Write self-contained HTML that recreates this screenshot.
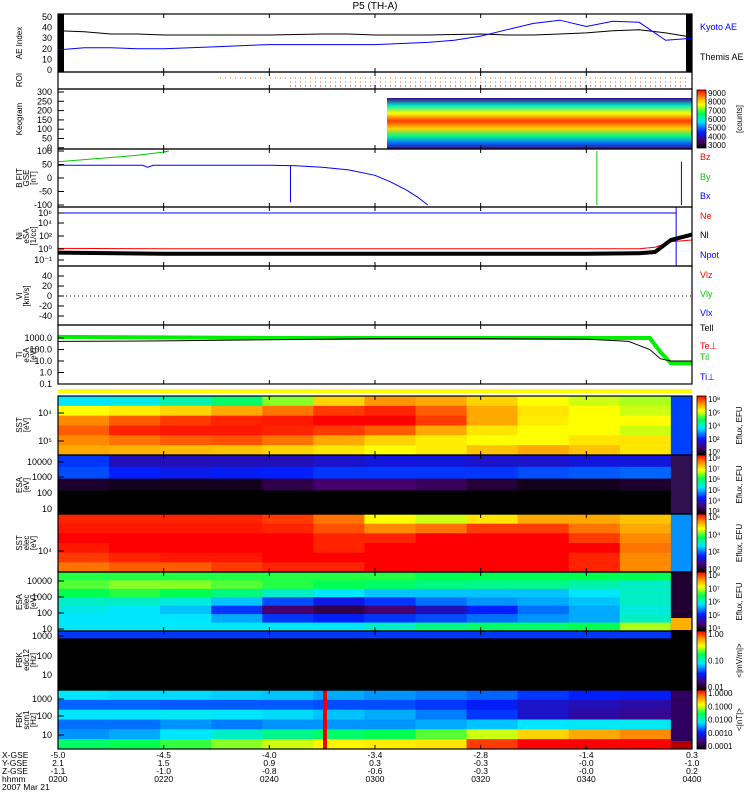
<!DOCTYPE html>
<html><head><meta charset="utf-8"><style>
html,body{margin:0;padding:0;background:#fff;}
svg{display:block;font-family:"Liberation Sans",sans-serif;}
</style></head><body>
<svg id="c" width="750" height="800" viewBox="0 0 750 800"></svg>
<script>
// ---- data ----
const tickTimes=[0,20,40,60,80,100,120];
const tickHHMM=["0200","0220","0240","0300","0320","0340","0400"];
const tickX=["-5.0","-4.5","-4.0","-3.4","-2.8","-1.4","0.3"];
const tickY=["2.1","1.5","0.9","0.3","-0.3","-0.0","-1.0"];
const tickZ=["-1.1","-1.0","-0.8","-0.6","-0.3","-0.0","0.2"];
const aeTimes=[0,5,10,15,20,25,30,35,40,45,50,55,60,65,70,75,80,85,90,95,100,105,110,115,120];
const themisAE=[37,36,34,34,33,33,33,33,33,33.5,34,34,33,33,33,33.5,34,33,33,34,35,37,38,35,31];
const kyotoAE=[19,21,21,20,20,21,22,23,24,24,24,24,24,25,26,28,32,38,44,47,41,46,45,28,30];
const byTimes=[0,5,10,15,20,21];
const byVals=[60,68,76,84,96,100];
const bxTimes=[0,10,16,17,18,40,45,50,55,60,63,66,68,70];
const bxVals=[47,47,47,40,47,47,45,40,30,10,-15,-45,-70,-100];
const niTimes=[0,20,40,60,80,100,110,113,116,120];
const neVals=[0.1,0.05,0.05,0.05,0.05,0.05,0.05,0.3,1.2,1.5];
const nlVals=[-0.6,-0.8,-0.8,-0.8,-0.8,-0.8,-0.7,-0.5,1.5,2.4];
const tiTimes=[0,20,40,60,80,100,108,112,114,116,120];
const teVals=[2.7,2.75,2.85,2.95,2.95,2.9,2.7,2.0,1.2,1.0,1.0];
const tiVals=[3.1,3.05,3.0,3.0,3.0,3.0,3.0,3.0,1.8,0.8,0.8];
// spectrogram matrices (0..1 colour index), rows top->bottom, 12 time columns
const sstIon=[[0.45,0.47,0.52,0.58,0.68,0.8,0.87,0.85,0.8,0.75,0.72,0.7],
[0.75,0.77,0.8,0.85,0.9,0.95,0.97,0.92,0.85,0.78,0.75,0.72],
[0.88,0.92,0.95,0.97,0.98,1,1,0.95,0.85,0.77,0.75,0.75],
[0.92,0.97,0.98,0.98,0.97,0.95,0.92,0.85,0.78,0.75,0.75,0.72],
[0.88,0.9,0.92,0.93,0.9,0.85,0.8,0.77,0.75,0.75,0.78,0.78],
[0.85,0.84,0.83,0.82,0.8,0.78,0.75,0.77,0.82,0.85,0.82,0.78]];
const esaEl=[[0.3,0.2,0.2,0.2,0.2,0.22,0.24,0.24,0.22,0.22,0.24,0.24],
[0.32,0.28,0.26,0.27,0.28,0.3,0.3,0.3,0.3,0.32,0.33,0.34],
[0.05,0.03,0.03,0.03,0.08,0.12,0.12,0.1,0.06,0.03,0.03,0.05],
[0,0,0,0,0,0,0,0,0,0,0,0],[0,0,0,0,0,0,0,0,0,0,0,0]];
const sstEl=[[0.97,0.97,0.97,0.97,0.95,0.9,0.75,0.72,0.78,0.85,0.85,0.82],
[0.98,0.98,0.98,0.98,0.97,0.93,0.88,0.9,0.95,0.95,0.9,0.85],
[1,1,1,1,1,0.97,0.97,1,1,1,0.95,0.88],[0.98,1,1,1,1,0.97,1,1,1,1,1,0.9],
[0.95,0.97,0.98,0.98,1,1,1,1,1,1,0.97,0.88],[0.9,0.92,0.92,0.95,0.97,0.97,1,1,1,1,0.97,0.88]];
const esaIon=[[0.62,0.62,0.62,0.62,0.62,0.62,0.62,0.6,0.6,0.6,0.6,0.6],
[0.65,0.68,0.68,0.65,0.62,0.6,0.58,0.56,0.55,0.55,0.52,0.5],
[0.6,0.62,0.6,0.56,0.5,0.45,0.42,0.42,0.42,0.42,0.45,0.5],
[0.5,0.5,0.48,0.42,0.32,0.25,0.3,0.35,0.38,0.4,0.42,0.5],
[0.47,0.45,0.42,0.3,0.12,0.08,0.12,0.2,0.28,0.35,0.4,0.48],
[0.45,0.45,0.45,0.4,0.3,0.28,0.3,0.32,0.35,0.38,0.4,0.5],
[0.45,0.45,0.45,0.45,0.45,0.45,0.5,0.55,0.58,0.58,0.6,0.7]];
const fbkEdc=[[0.3,0.3,0.3,0.3,0.3,0.3,0.3,0.3,0.3,0.3,0.3,0.3],[0,0,0,0,0,0,0,0,0,0,0,0],[0,0,0,0,0,0,0,0,0,0,0,0],[0,0,0,0,0,0,0,0,0,0,0,0],[0,0,0,0,0,0,0,0,0,0,0,0],[0,0,0,0,0,0,0,0,0,0,0,0],[0,0,0,0,0,0,0,0,0,0,0,0],[0,0,0,0,0,0,0,0,0,0,0,0]];
const fbkScm=[[0.45,0.44,0.44,0.43,0.42,0.4,0.38,0.36,0.34,0.3,0.28,0.27],
[0.34,0.34,0.33,0.33,0.33,0.32,0.32,0.3,0.27,0.22,0.2,0.18],
[0.45,0.45,0.46,0.45,0.44,0.42,0.4,0.36,0.3,0.22,0.18,0.16],
[0.35,0.35,0.38,0.36,0.38,0.38,0.38,0.4,0.42,0.45,0.46,0.46],
[0.38,0.4,0.45,0.5,0.55,0.58,0.6,0.65,0.72,0.8,0.85,0.88],
[0.58,0.6,0.63,0.68,0.72,0.76,0.77,0.78,0.95,1,1,1]];

// ---- helpers ----
const S=document.getElementById('c'),NS="http://www.w3.org/2000/svg";
const X0=58,X1=692;
const xs=t=>X0+t*(X1-X0)/120;
function mk(tag,a,p){const e=document.createElementNS(NS,tag);for(const k in a)e.setAttribute(k,a[k]);(p||S).appendChild(e);return e;}
function txt(x,y,s,o){const e=mk('text',Object.assign({x:x,y:y,'font-size':9},o||{}));e.textContent=s;return e;}
const stops=[[0,[0,0,0]],[0.12,[70,0,110]],[0.28,[0,30,255]],[0.45,[0,230,255]],[0.6,[0,255,80]],[0.75,[255,255,0]],[0.87,[255,150,0]],[1,[255,0,0]]];
function cmap(v){for(let i=1;i<stops.length;i++){if(v<=stops[i][0]){const a=stops[i-1],b=stops[i],f=(v-a[0])/(b[0]-a[0]);return 'rgb('+a[1].map((c,j)=>Math.round(c+(b[1][j]-c)*f)).join(',')+')';}}return 'rgb(255,0,0)';}
function line(ts,vs,ys,col,w,name){const pts=ts.map((t,i)=>xs(t).toFixed(1)+','+ys(vs[i]).toFixed(1)).join(' ');const e=mk('polyline',{points:pts,fill:'none',stroke:col,'stroke-width':w||1});

return e;}
function spec(mat,y0,y1,name){const g=mk('g',{});


const rows=mat.length,cols=mat[0].length,rh=(y1-y0)/rows,tEnd=116;
mat.forEach((r,i)=>r.forEach((v,j)=>{mk('rect',{x:xs(j*tEnd/cols),y:y0+i*rh,width:xs((j+1)*tEnd/cols)-xs(j*tEnd/cols)+0.5,height:rh+0.5,fill:cmap(v)},g);}));}
function frame(y0,y1,name){const r=mk('rect',{x:X0,y:y0,width:X1-X0,height:y1-y0,fill:'none',stroke:'#000','stroke-width':1.2});


tickTimes.forEach(t=>{mk('line',{x1:xs(t),x2:xs(t),y1:y1,y2:y1-4,stroke:'#000'});mk('line',{x1:xs(t),x2:xs(t),y1:y0,y2:y0+4,stroke:'#000'});});}
function ylab(y,lines){lines.forEach((s,i)=>{txt(0,0,s,{transform:'translate('+(22+i*7)+','+y+') rotate(-90)','text-anchor':'middle','font-size':8});});}
function yt(y,s){txt(52,y+3,s,{'text-anchor':'end','font-size':9});mk('line',{x1:X0,x2:X0+6,y1:y,y2:y,stroke:'#000'});}
function rl(y,s,c){txt(700,y,s,{fill:c,'font-size':9});}
function cbar(y0,y1,labels,title){const id='g'+y0;const lg=mk('linearGradient',{id:id,x1:0,y1:1,x2:0,y2:0},mk('defs',{}));stops.forEach(s=>mk('stop',{offset:s[0],'stop-color':cmap(s[0])},lg));
const r=mk('rect',{x:697,y:y0,width:9,height:y1-y0,fill:'url(#'+id+')',stroke:'#000','stroke-width':0.8});


labels.forEach((s,i)=>txt(708,y1-3-i*(y1-y0-6)/(labels.length-1)+3,s,{'font-size':8}));
txt(0,0,title,{transform:'translate(742,'+((y0+y1)/2)+') rotate(-90)','text-anchor':'middle','font-size':8});}

// title
const ti=txt(375,9,'P5 (TH-A)',{'text-anchor':'middle','font-size':10});



// AE panel
const aeY=v=>70-v*(53/50);
mk('rect',{x:X0,y:14,width:6,height:58,fill:'#000'});
mk('rect',{x:686,y:14,width:6,height:58,fill:'#000'});
line(aeTimes,themisAE,aeY,'#000',1,'themis-ae-line');
line(aeTimes,kyotoAE,aeY,'#00f',1,'kyoto-ae-line');
frame(14,72,'ae-index-panel');[0,10,20,30,40,50].forEach(v=>txt(52,aeY(v)+3,String(v),{'text-anchor':'end'}));
ylab(43,['AE Index']);rl(30,'Kyoto AE','#00f');rl(60,'Themis AE','#000');

// ROI
frame(72,89,'roi-panel');ylab(80,['ROI']);
mk('line',{x1:220,x2:690,y1:78,y2:78,stroke:'#f60','stroke-dasharray':'1 4'});
mk('line',{x1:290,x2:690,y1:82,y2:82,stroke:'#f60','stroke-dasharray':'1 4'});
mk('line',{x1:290,x2:690,y1:86,y2:86,stroke:'#a00','stroke-dasharray':'1 4'});

// Keogram
const kg=mk('linearGradient',{id:'kg',x1:0,y1:0,x2:0,y2:1},mk('defs',{}));
[[0,0.15],[0.15,0.5],[0.3,0.75],[0.45,0.95],[0.6,0.8],[0.75,0.55],[0.88,0.35],[1,0.15]].forEach(s=>mk('stop',{offset:s[0],'stop-color':cmap(s[1])},kg));
const kr=mk('rect',{x:387,y:98,width:305,height:51,fill:'url(#kg)'});


frame(89,149,'keogram-panel');['300','250','200','150','100','50','0'].forEach((s,i)=>yt(92+i*9.3,s));ylab(119,['Keogram']);
cbar(90,148,['3000','4000','5000','6000','7000','8000','9000'],'[counts]');

// B panel
const bY=v=>178-v*0.27;
line(byTimes,byVals,bY,'#0c0',1,'by-line');
line(bxTimes,bxVals,bY,'#00f',1,'bx-line');
mk('line',{x1:xs(44),x2:xs(44),y1:bY(47),y2:bY(-90),stroke:'#00f'});
mk('line',{x1:xs(102),x2:xs(102),y1:bY(100),y2:bY(-100),stroke:'#0c0'});
mk('line',{x1:xs(118),x2:xs(118),y1:bY(60),y2:bY(-100),stroke:'#00f'});
frame(149,207,'magnetic-field-panel');[100,50,0,-50,-100].forEach(v=>yt(bY(v),String(v)));
ylab(178,['B FIT','GSE','[nT]']);rl(160,'Bz','#f00');rl(180,'By','#0c0');rl(199,'Bx','#00f');

// Ni panel
const nY=v=>249-v*6;
mk('polyline',{points:xs(0)+','+nY(6)+' '+xs(117)+','+nY(6)+' '+xs(117)+','+207+' '+xs(117)+',266',fill:'none',stroke:'#00f'});
line(niTimes,neVals,nY,'#f00',1,'ne-line');
line(niTimes,nlVals,nY,'#000',4,'ni-line');
frame(207,266,'density-panel');yt(213,'10⁶');yt(223,'10⁴');yt(236,'10²');yt(249,'10⁰');yt(260,'10⁻¹');
ylab(236,['Ni','eSA','[1/cc]']);rl(219,'Ne','#f00');rl(238,'Nl','#000');rl(258,'Npot','#00f');

// Vi
frame(266,325,'velocity-panel');[40,20,0,-20,-40].forEach((v,i)=>yt(276+i*10,String(v)));
mk('line',{x1:X0,x2:X1,y1:296,y2:296,stroke:'#000','stroke-dasharray':'1 3'});
ylab(296,['Vi','[km/s]']);rl(278,'Vlz','#f00');rl(297,'Vly','#0c0');rl(316,'Vlx','#00f');

// Ti
const tY=v=>338+(3-v)*11.5;
line(tiTimes,tiVals,tY,'#0e0',4,'ti-line');
line(tiTimes,teVals,tY,'#000',1,'te-line');
frame(325,384,'temperature-panel');['1000.0','100.0','10.0','1.0','0.1'].forEach((s,i)=>yt(338+i*11.5,s));
ylab(355,['Ti','eSA','[eV]']);rl(331,'Tell','#000');rl(349,'Te⊥','#f00');rl(360,'Til','#0c0');rl(380,'Ti⊥','#00f');

// yellow bar
const yb=mk('rect',{x:X0,y:389,width:X1-X0,height:4,fill:'#ff0'});



// spectrograms
spec(sstIon,396,455,'sst-ion-spectrogram');mk('rect',{x:xs(116),y:396,width:X1-xs(116),height:59,fill:'#0040ff'});
spec(esaEl,455,514,'esa-ion-spectrogram');mk('rect',{x:xs(116),y:455,width:X1-xs(116),height:59,fill:'#301050'});
spec(sstEl,514,572,'sst-electron-spectrogram');mk('rect',{x:xs(116),y:514,width:X1-xs(116),height:58,fill:'#0090ff'});
spec(esaIon,572,631,'esa-electron-spectrogram');mk('rect',{x:xs(116),y:572,width:X1-xs(116),height:59,fill:'#200030'});
mk('rect',{x:xs(116),y:618,width:X1-xs(116),height:12,fill:'#ffb000'});
spec(fbkEdc,631,690,'fbk-edc12-spectrogram');mk('rect',{x:xs(116),y:631,width:X1-xs(116),height:59,fill:'#000'});
spec(fbkScm,690,749,'fbk-scm1-spectrogram');
mk('rect',{x:xs(116),y:690,width:X1-xs(116),height:59,fill:'#300060'});mk('rect',{x:xs(116),y:741,width:X1-xs(116),height:8,fill:'#b00000'});
mk('rect',{x:323,y:690,width:4,height:59,fill:'#e00'});

frame(396,455,'sst-ion-frame');yt(413,'10⁴');yt(441,'10⁵');ylab(425,['SST','[eV]']);
frame(455,514,'esa-ion-frame');yt(462,'10000');yt(477,'1000');yt(493,'100');yt(509,'10');ylab(485,['ESA','[eV]']);
frame(514,572,'sst-el-frame');yt(551,'10⁴');ylab(543,['SST','elec','[eV]']);
frame(572,631,'esa-el-frame');['10000','1000','100','10'].forEach((s,i)=>yt(581+i*16,s));ylab(602,['ESA','elec','[eV]']);
frame(631,690,'fbk-edc-frame');yt(636,'1000');yt(656,'100');yt(675,'10');ylab(660,['FBK','edc12','[Hz]']);
frame(690,749,'fbk-scm-frame');yt(699,'1000');yt(716,'100');yt(735,'10');ylab(720,['FBK','scm1','[Hz]']);

cbar(396,455,['10⁰','10²','10⁴','10⁶','10⁸'],'Eflux, EFU');
cbar(455,514,['10³','10⁴','10⁵','10⁶','10⁷','10⁸'],'Eflux, EFU');
cbar(514,572,['10⁰','10²','10⁴','10⁶'],'Eflux, EFU');
cbar(572,631,['10⁴','10⁵','10⁶','10⁷','10⁸'],'Eflux, EFU');
cbar(631,690,['0.01','0.10','1.00'],'<|mV/m|>');
cbar(690,749,['0.0001','0.0010','0.0100','0.1000','1.0000'],'<|nT|>');

// bottom axis labels
[['X-GSE',758],['Y-GSE',766],['Z-GSE',774],['hhmm',782]].forEach(r=>txt(2,r[1],r[0],{'font-size':8.5}));
txt(2,790,'2007 Mar 21',{'font-size':8.5});
tickTimes.forEach((t,i)=>{const x=xs(t);
[tickX[i],tickY[i],tickZ[i],tickHHMM[i]].forEach((s,k)=>{const e=txt(x,758+k*8,s,{'text-anchor':'middle','font-size':8.5});

});});
</script>
</body></html>
